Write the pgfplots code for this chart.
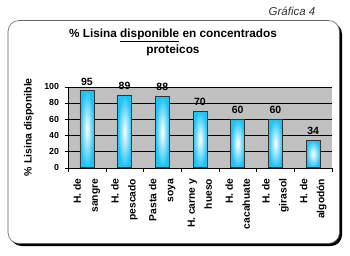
\documentclass[border=0pt]{standalone}
\usepackage{fontspec}
\setmainfont{Liberation Sans}
\usepackage{pgfplots}
\pgfplotsset{compat=1.18}
\definecolor{plotbg}{RGB}{192,192,192}
\definecolor{barcyan}{RGB}{30,195,245}
\begin{document}
\begin{tikzpicture}
\path[use as bounding box] (0pt,0pt) rectangle (350pt,255pt);
% frame with shadow
\fill[black, rounded corners=11pt] (10.5pt,9pt) rectangle (342pt,232pt);
\filldraw[fill=white, draw=gray!80!black, line width=0.6pt, rounded corners=11pt] (8pt,11.5pt) rectangle (339.5pt,234.5pt);
\node[font=\itshape\fontsize{11.5}{12}\selectfont, text=black!80] at (292pt,243.5pt) {Gráfica 4};
\node[font=\bfseries\fontsize{11.8}{15}\selectfont, align=center] at (173pt,212.5pt) {\% Lisina \underline{disponible} en concentrados\\[1.5pt]proteicos};
\begin{axis}[
  at={(68pt,87.3pt)}, anchor=south west,
  scale only axis, width=264pt, height=81pt,
  ymin=0, ymax=100, xmin=-0.5, xmax=6.5,
  ytick={0,20,...,100},
  xtick={0,...,6},
  xticklabels={{H. de\\sangre},{H. de\\pescado},{Pasta de\\soya},{H. carne y\\hueso},{H. de\\cacahuate},{H. de\\girasol},{H. de\\algodón}},
  minor xtick={-0.5,0.5,...,6.5},
  major x tick style={draw=none},
  minor tick length=4pt,
  major tick length=3.5pt,
  tick align=outside,
  tick style={black, thin},
  axis x line*=bottom, axis y line*=left,
  axis line style={black, thin, -},
  axis background/.style={fill=plotbg},
  ymajorgrids, grid style={black, thin},
  /pgf/number format/assume math mode=true,
  yticklabel style={font=\bfseries\fontsize{8.8}{10}\selectfont, xshift=-2pt},
  xticklabel style={yshift=-4pt, rotate=90, anchor=east, align=right, font=\bfseries\fontsize{10.3}{17}\selectfont},
  ylabel={\% Lisina disponible},
  ylabel style={font=\bfseries\fontsize{10.5}{12}\selectfont, yshift=3.5pt},
  ybar, bar width=14pt, bar shift=0pt,
  nodes near coords,
  every node near coord/.append style={font=\bfseries\fontsize{10.5}{12}\selectfont, yshift=2pt},
  clip=false,
  barstyle/.style={draw=black!80, line width=0.6pt, shading=radial, inner color=white, outer color=barcyan},
]
\addplot[barstyle] coordinates {(0,95)};
\addplot[barstyle] coordinates {(1,89)};
\addplot[barstyle] coordinates {(2,88)};
\addplot[barstyle] coordinates {(3,70)};
\addplot[barstyle] coordinates {(4,60)};
\addplot[barstyle] coordinates {(5,60)};
\addplot[barstyle] coordinates {(6,34)};
\end{axis}
\end{tikzpicture}
\end{document}
